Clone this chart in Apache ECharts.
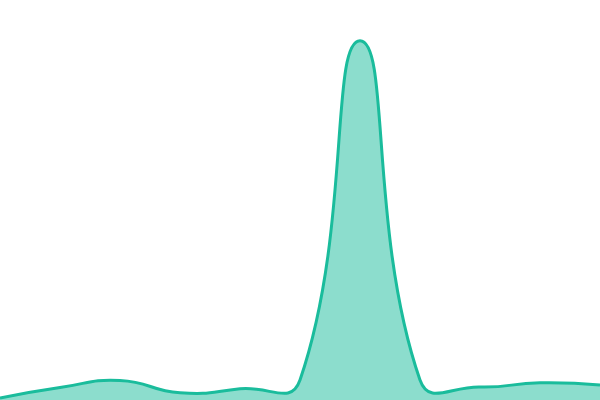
<!DOCTYPE html>
<html><head><meta charset="utf-8">
<script src="https://cdn.jsdelivr.net/npm/echarts@6/dist/echarts.min.js"></script>
<style>html,body{margin:0;padding:0;background:#fff}#c{width:600px;height:400px}</style>
</head><body><div id="c"></div>
<script>
const categories = ['1','2','3','4','5','6','7','8','9','10','11'];
const values = [0.5, 3.1, 4.9, 1.8, 2.8, 5, 89.8, 5, 3.25, 4.3, 3.75];
const yMin = 0, yMax = 100;
const SMOOTH = 0.5;
const LINE_COLOR = '#1abc9c';

// Unconstrained bezier smoothing (classic zrender smoothBezier)
function controlPoints(pts, smooth) {
  const cps = [];
  const n = pts.length;
  for (let i = 0; i < n; i++) {
    const p = pts[i];
    if (i === 0 || i === n - 1) { cps.push([p[0], p[1]]); continue; }
    const a = pts[i - 1], b = pts[i + 1];
    const vx = (b[0] - a[0]) * smooth, vy = (b[1] - a[1]) * smooth;
    let d0 = Math.hypot(p[0] - a[0], p[1] - a[1]);
    let d1 = Math.hypot(p[0] - b[0], p[1] - b[1]);
    const s = d0 + d1;
    if (s) { d0 /= s; d1 /= s; }
    cps.push([p[0] - vx * d0, p[1] - vy * d0]);
    cps.push([p[0] + vx * d1, p[1] + vy * d1]);
  }
  return cps;
}
function curvePath(pts, cps) {
  let d = 'M' + pts[0][0] + ' ' + pts[0][1];
  for (let i = 0; i < pts.length - 1; i++) {
    const c1 = cps[i * 2], c2 = cps[i * 2 + 1], p = pts[i + 1];
    d += ' C' + c1[0] + ' ' + c1[1] + ' ' + c2[0] + ' ' + c2[1] + ' ' + p[0] + ' ' + p[1];
  }
  return d;
}

const chart = echarts.init(document.getElementById('c'));
chart.setOption({
  animation: false,
  grid: {left: 0, right: 0, top: 0, bottom: 0},
  xAxis: {type: 'category', data: categories, boundaryGap: false, show: false},
  yAxis: {type: 'value', min: yMin, max: yMax, show: false},
  series: [{
    type: 'custom',
    data: values.map((v, i) => [i, v]),
    renderItem: function (params, api) {
      if (params.dataIndex !== 0) return null;
      const pts = values.map((v, i) => api.coord([i, v]));
      const cps = controlPoints(pts, SMOOTH);
      const line = curvePath(pts, cps);
      const base = api.coord([0, yMin])[1];
      const last = pts[pts.length - 1];
      const area = line + ' L' + last[0] + ' ' + base + ' L' + pts[0][0] + ' ' + base + ' Z';
      return {
        type: 'group',
        children: [
          {type: 'path', shape: {pathData: area}, style: {fill: LINE_COLOR, opacity: 0.5, stroke: null}},
          {type: 'path', shape: {pathData: line}, style: {fill: null, stroke: LINE_COLOR, lineWidth: 3, lineJoin: 'round'}}
        ]
      };
    }
  }]
});
</script></body></html>
